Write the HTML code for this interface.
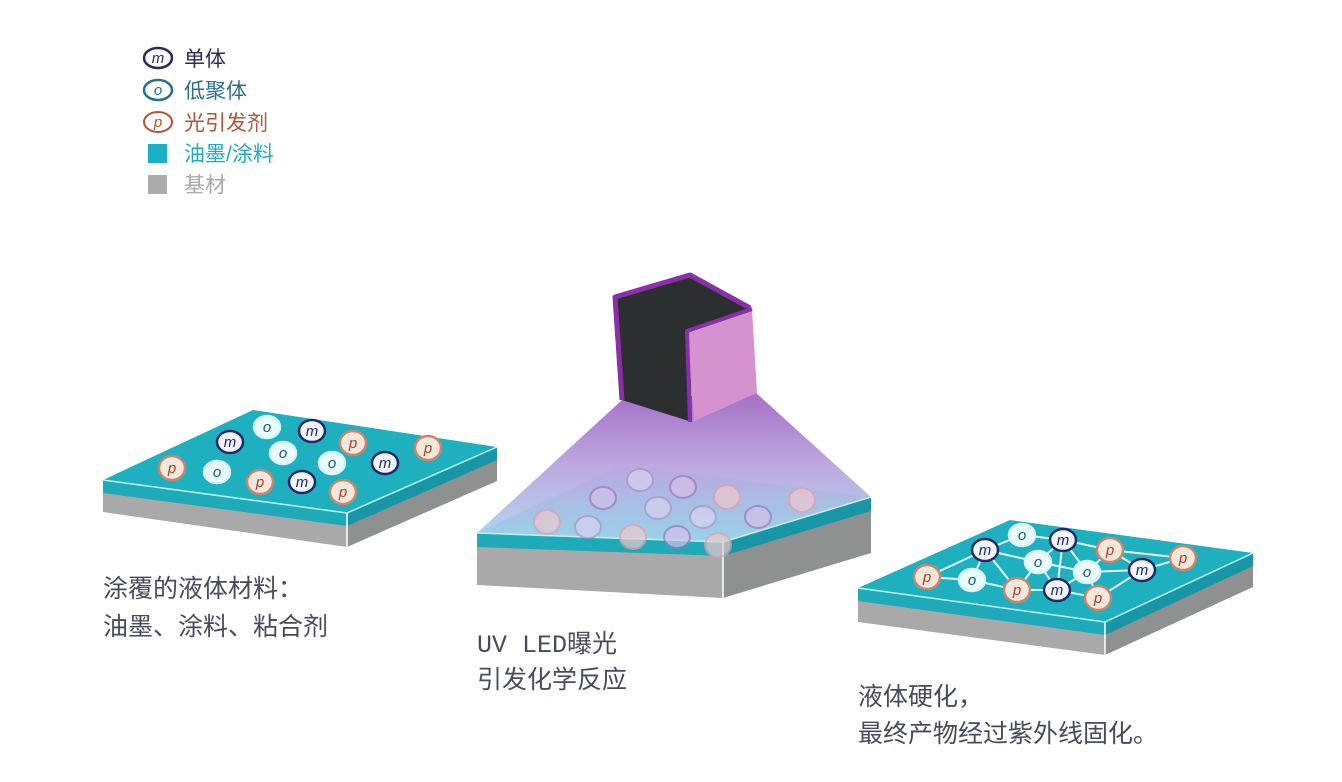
<!DOCTYPE html>
<html><head><meta charset="utf-8">
<style>
html,body{margin:0;padding:0;background:#fff;}
svg{display:block;}
.cap{font-family:"Liberation Sans","Noto Sans CJK SC",sans-serif;font-size:25px;fill:#4a4a5e;}
.mol{font-family:"Liberation Sans",sans-serif;font-style:italic;font-size:15px;text-anchor:middle;}
</style></head>
<body>
<svg width="1342" height="782" viewBox="0 0 1342 782" xmlns="http://www.w3.org/2000/svg">
<defs>
<linearGradient id="cone" x1="0" y1="0" x2="0" y2="1">
<stop offset="0" stop-color="#9a5fc0"/>
<stop offset="0.5" stop-color="#b7a0dc"/>
<stop offset="1" stop-color="#a8d4ee"/>
</linearGradient>
<linearGradient id="slab2" x1="0" y1="0" x2="0" y2="1">
<stop offset="0" stop-color="#b9a8e0"/>
<stop offset="1" stop-color="#8fd2e6"/>
</linearGradient>
</defs>

<!-- legend -->
<ellipse cx="158" cy="58" rx="14" ry="10" fill="#fff" stroke="#2d2a5a" stroke-width="2.5"/>
<text x="158" y="63" class="mol" fill="#2d2a5a">m</text>
<ellipse cx="158" cy="90" rx="14" ry="10" fill="#fff" stroke="#2a6f90" stroke-width="2.5"/>
<text x="158" y="95" class="mol" fill="#2a6f90">o</text>
<ellipse cx="158" cy="122" rx="14" ry="10" fill="#fff" stroke="#b0553a" stroke-width="2"/>
<text x="158" y="127" class="mol" fill="#b0553a">p</text>
<rect x="148" y="144" width="19" height="19" fill="#18b2c4"/>
<rect x="148" y="175" width="19" height="19" fill="#acacac"/>
<g class="cap" style="font-size:21px">
<text x="184" y="66" fill="#2d2a5a">单体</text>
<text x="184" y="98" fill="#2a6f90">低聚体</text>
<text x="184" y="130" fill="#b0553a">光引发剂</text>
<text x="184" y="161" fill="#22aabb">油墨/涂料</text>
<text x="184" y="192" fill="#aaaaaa">基材</text>
</g>

<!-- slab 1 -->
<polygon points="103,480 347,513 347,547 103,512" fill="#a9a9a9"/>
<polygon points="347,513 497,447 497,481 347,547" fill="#8f9090"/>
<polygon points="103,480 347,513 347,526 103,493" fill="#1eaab8"/>
<polygon points="347,513 497,447 497,460 347,526" fill="#1797a5"/>
<polygon points="103,480 253,410 497,447 347,513" fill="#1fb0bf"/>
<polyline points="103,480 347,513 497,447" fill="none" stroke="#bff4fa" stroke-width="1.5"/>
<line x1="347" y1="513" x2="347" y2="547" stroke="#fff" stroke-width="1.5"/>

<g stroke-width="2.5">
<g fill="#e9fbfd" stroke="#d8f4f8"><ellipse cx="267" cy="427" rx="13" ry="11"/><ellipse cx="283" cy="453" rx="13" ry="11"/><ellipse cx="332" cy="463" rx="13" ry="11"/><ellipse cx="217" cy="472" rx="13" ry="11"/></g>
<g fill="#f2f4fb" stroke="#1d2a6a"><ellipse cx="312" cy="431" rx="13" ry="11"/><ellipse cx="230" cy="442" rx="13" ry="11"/><ellipse cx="385" cy="463" rx="13" ry="11"/><ellipse cx="302" cy="482" rx="13" ry="11"/></g>
<g fill="#f6e6dc" stroke="#c9866a"><ellipse cx="353" cy="443" rx="13" ry="12"/><ellipse cx="428" cy="448" rx="13" ry="12"/><ellipse cx="172" cy="468" rx="13" ry="12"/><ellipse cx="260" cy="482" rx="13" ry="12"/><ellipse cx="343" cy="492" rx="13" ry="12"/></g>
</g>
<g class="mol">
<g fill="#1f5870"><text x="267" y="432">o</text><text x="283" y="458">o</text><text x="332" y="468">o</text><text x="217" y="477">o</text></g>
<g fill="#1d2a6a"><text x="312" y="436">m</text><text x="230" y="447">m</text><text x="385" y="468">m</text><text x="302" y="487">m</text></g>
<g fill="#a5442a"><text x="353" y="448">p</text><text x="428" y="453">p</text><text x="172" y="473">p</text><text x="260" y="487">p</text><text x="343" y="497">p</text></g>
</g>

<!-- slab 2 -->
<polygon points="477,533 723,542 723,598 477,585" fill="#a9a9a9"/>
<polygon points="723,542 871,497 871,553 723,598" fill="#8f9090"/>
<polygon points="477,533 723,542 723,556 477,547" fill="#1eaab8"/>
<polygon points="723,542 871,497 871,511 723,556" fill="#1797a5"/>
<polygon points="622,400 755,392 871,497 723,542 477,533" fill="url(#cone)" opacity="0.9"/>
<polygon points="477,533 622,465 871,497 723,542" fill="url(#slab2)" opacity="0.75"/>
<polyline points="477,533 723,542 871,497" fill="none" stroke="#c8f0f8" stroke-width="1.5"/>
<line x1="723" y1="542" x2="723" y2="598" stroke="#fff" stroke-width="1.5"/>
<g opacity="0.7" stroke-width="2">
<g fill="#d9d2f0" stroke="#a898d0"><ellipse cx="640" cy="480" rx="13" ry="11"/><ellipse cx="658" cy="508" rx="13" ry="11"/><ellipse cx="703" cy="517" rx="13" ry="11"/><ellipse cx="588" cy="527" rx="13" ry="11"/></g>
<g fill="#d6c0e8" stroke="#9a78c0"><ellipse cx="683" cy="487" rx="13" ry="11"/><ellipse cx="603" cy="498" rx="13" ry="11"/><ellipse cx="758" cy="517" rx="13" ry="11"/><ellipse cx="677" cy="537" rx="13" ry="11"/></g>
<g fill="#f0c8cc" stroke="#e0a0b0"><ellipse cx="727" cy="497" rx="13" ry="12"/><ellipse cx="802" cy="500" rx="13" ry="12"/><ellipse cx="547" cy="522" rx="13" ry="12"/><ellipse cx="633" cy="537" rx="13" ry="12"/><ellipse cx="718" cy="545" rx="13" ry="12"/></g>
</g>

<!-- cube -->
<polygon points="615,297 690,275 750,308 690,332 692,422 622,400" fill="#2b2f30"/>
<polyline points="622,400 615,297 690,275 750,308" fill="none" stroke="#8a2fa8" stroke-width="5" stroke-linejoin="round"/>
<polygon points="687,331 752,309 757,393 694,421" fill="#d492cf"/>
<polyline points="690,422 687,331 752,309" fill="none" stroke="#8a2fa8" stroke-width="4" stroke-linejoin="round"/>

<!-- slab 3 -->
<polygon points="858,588 1105,622 1105,655 858,622" fill="#a9a9a9"/>
<polygon points="1105,622 1253,553 1253,587 1105,655" fill="#8f9090"/>
<polygon points="858,588 1105,622 1105,635 858,601" fill="#1eaab8"/>
<polygon points="1105,622 1253,553 1253,566 1105,635" fill="#1797a5"/>
<polygon points="858,588 1010,520 1253,553 1105,622" fill="#1fb0bf"/>
<polyline points="858,588 1105,622 1253,553" fill="none" stroke="#bff4fa" stroke-width="1.5"/>
<line x1="1105" y1="622" x2="1105" y2="655" stroke="#fff" stroke-width="1.5"/>
<g stroke="#e6fafc" stroke-width="2" fill="none">
<polyline points="927,577 985,550 1022,535 1063,540 1110,550 1183,558"/>
<polyline points="927,577 972,580 1017,590 1057,590 1098,598 1142,570 1183,558"/>
<polyline points="985,550 1038,562 1087,572 1142,570 1110,550"/>
<polyline points="985,550 972,580"/><polyline points="985,550 1017,590 1038,562 1063,540 1087,572 1057,590 1038,562"/>
<polyline points="1063,540 1057,590"/><polyline points="1087,572 1098,598"/><polyline points="1110,550 1087,572"/>
</g>
<g stroke-width="2.5">
<g fill="#e9fbfd" stroke="#d8f4f8"><ellipse cx="1022" cy="535" rx="13" ry="11"/><ellipse cx="1038" cy="562" rx="13" ry="11"/><ellipse cx="1087" cy="572" rx="13" ry="11"/><ellipse cx="972" cy="580" rx="13" ry="11"/></g>
<g fill="#f2f4fb" stroke="#1d2a6a"><ellipse cx="1063" cy="540" rx="13" ry="11"/><ellipse cx="985" cy="550" rx="13" ry="11"/><ellipse cx="1142" cy="570" rx="13" ry="11"/><ellipse cx="1057" cy="590" rx="13" ry="11"/></g>
<g fill="#f6e6dc" stroke="#c9866a"><ellipse cx="1110" cy="550" rx="13" ry="12"/><ellipse cx="1183" cy="558" rx="13" ry="12"/><ellipse cx="927" cy="577" rx="13" ry="12"/><ellipse cx="1017" cy="590" rx="13" ry="12"/><ellipse cx="1098" cy="598" rx="13" ry="12"/></g>
</g>
<g class="mol">
<g fill="#1f5870"><text x="1022" y="540">o</text><text x="1038" y="567">o</text><text x="1087" y="577">o</text><text x="972" y="585">o</text></g>
<g fill="#1d2a6a"><text x="1063" y="545">m</text><text x="985" y="555">m</text><text x="1142" y="575">m</text><text x="1057" y="595">m</text></g>
<g fill="#a5442a"><text x="1110" y="555">p</text><text x="1183" y="563">p</text><text x="927" y="582">p</text><text x="1017" y="595">p</text><text x="1098" y="603">p</text></g>
</g>

<!-- captions -->
<text x="103" y="597" class="cap">涂覆的液体材料：</text>
<text x="103" y="635" class="cap">油墨、涂料、粘合剂</text>
<text x="477" y="652" class="cap" style="font-family:'Liberation Mono','Noto Sans CJK SC',monospace">UV LED曝光</text>
<text x="477" y="688" class="cap">引发化学反应</text>
<text x="858" y="705" class="cap">液体硬化，</text>
<text x="858" y="742" class="cap">最终产物经过紫外线固化。</text>
</svg>
</body></html>
